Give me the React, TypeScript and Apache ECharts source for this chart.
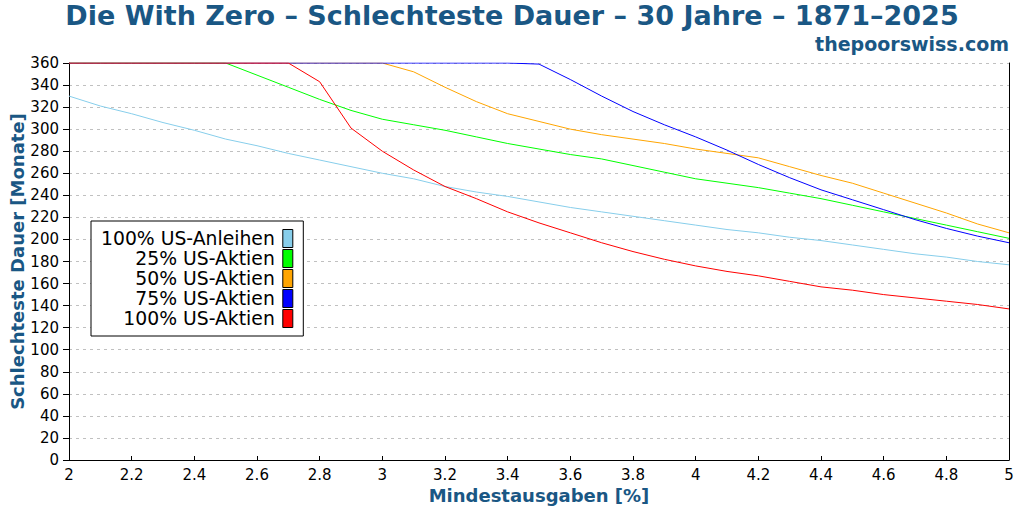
import React, { useEffect, useRef } from "react";
import * as echarts from "echarts";

const xValues = [2.0, 2.1, 2.2, 2.3, 2.4, 2.5, 2.6, 2.7, 2.8, 2.9, 3.0, 3.1, 3.2, 3.3, 3.4, 3.5, 3.6, 3.7, 3.8, 3.9, 4.0, 4.1, 4.2, 4.3, 4.4, 4.5, 4.6, 4.7, 4.8, 4.9, 5.0];

const bonds100 = [330, 321, 314, 306, 299, 291, 285, 278, 272, 266, 260, 255, 248, 243, 239, 234, 229, 225, 221, 217, 213, 209, 206, 202, 199, 195, 191, 187, 184, 180, 177];
const stocks25 = [360, 360, 360, 360, 360, 360, 349, 338, 327, 317, 309, 304, 299, 293, 287, 282, 277, 273, 267, 261, 255, 251, 247, 242, 237, 231, 225, 219, 213, 207, 201];
const stocks50 = [360, 360, 360, 360, 360, 360, 360, 360, 360, 360, 360, 352, 338, 325, 314, 307, 300, 295, 291, 287, 282, 278, 274, 266, 258, 251, 242, 233, 224, 214, 206];
const stocks75 = [360, 360, 360, 360, 360, 360, 360, 360, 360, 360, 360, 360, 360, 360, 360, 359, 345, 330, 316, 304, 293, 281, 268, 256, 245, 236, 227, 218, 210, 203, 197];
const stocks100 = [360, 360, 360, 360, 360, 360, 360, 360, 343, 301, 280, 263, 248, 237, 225, 215, 206, 197, 189, 182, 176, 171, 167, 162, 157, 154, 150, 147, 144, 141, 137];

const seriesNames = ["100% US-Anleihen", "25% US-Aktien", "50% US-Aktien", "75% US-Aktien", "100% US-Aktien"];
const seriesValues = [bonds100, stocks25, stocks50, stocks75, stocks100];
const seriesColors = ["#87ceeb", "#00ff00", "#ffa500", "#0000ff", "#ff0000"];

const titleText = "Die With Zero – Schlechteste Dauer – 30 Jahre – 1871–2025";
const siteText = "thepoorswiss.com";
const xName = "Mindestausgaben [%]";
const yName = "Schlechteste Dauer [Monate]";

const FONT = "DejaVu Sans";
const BLUE = "#1a5784";

export default function App() {
  const ref = useRef<HTMLDivElement>(null);
  useEffect(() => {
    if (!ref.current) return;
    const chart = echarts.init(ref.current, undefined, { renderer: "svg" });
    chart.setOption({
      animation: false,
      backgroundColor: "#ffffff",
      textStyle: { fontFamily: FONT },
      title: [
        {
          text: titleText,
          left: "center",
          top: 2,
          padding: 0,
          textStyle: { fontFamily: FONT, fontSize: 27, fontWeight: "bold", color: BLUE },
        },
        {
          text: siteText,
          right: 15,
          top: 34,
          padding: 0,
          textStyle: { fontFamily: FONT, fontSize: 19, fontWeight: "bold", color: BLUE },
        },
      ],
      graphic: [
        {
          type: "text",
          x: 17,
          y: 261.5,
          rotation: Math.PI / 2,
          style: {
            text: yName,
            fontFamily: FONT,
            fontSize: 18,
            fontWeight: "bold",
            fill: BLUE,
            align: "center",
            verticalAlign: "middle",
          },
        },
      ],
      grid: { left: 69, right: 15, top: 63, bottom: 52, containLabel: false, outerBoundsMode: "none" },
      legend: {
        orient: "vertical",
        left: 91,
        top: 221,
        align: "right",
        icon: "rect",
        itemWidth: 10,
        itemHeight: 18,
        itemGap: 1,
        padding: [8, 10, 8, 10],
        backgroundColor: "#ffffff",
        borderColor: "#000000",
        borderWidth: 1,
        borderRadius: 0,
        itemStyle: { borderColor: "#000000", borderWidth: 1 },
        textStyle: { fontFamily: FONT, fontSize: 18.8, lineHeight: 18, color: "#000000", padding: [0, 3, 0, 0] },
        data: seriesNames,
      },
      xAxis: {
        type: "value",
        min: 2,
        max: 5,
        interval: 0.2,
        name: xName,
        nameLocation: "middle",
        nameGap: 26,
        nameTextStyle: { fontFamily: FONT, fontSize: 18, fontWeight: "bold", color: BLUE },
        axisLine: { show: true, lineStyle: { color: "#000000", width: 1 } },
        axisTick: { show: true, inside: true, length: 4, lineStyle: { color: "#000000" } },
        axisLabel: { fontFamily: FONT, fontSize: 15, color: "#000000", margin: 7 },
        splitLine: { show: false },
      },
      yAxis: [
        {
          type: "value",
          min: 0,
          max: 360,
          interval: 20,
          axisLine: { show: true, lineStyle: { color: "#000000", width: 1 } },
          axisTick: { show: true, inside: false, length: 6, lineStyle: { color: "#000000" } },
          axisLabel: { fontFamily: FONT, fontSize: 15, color: "#000000", margin: 10 },
          splitLine: { show: true, lineStyle: { color: "#c0c0c0", type: [3, 4], width: 1 } },
        },
        {
          type: "value",
          position: "right",
          min: 0,
          max: 360,
          interval: 20,
          axisLine: { show: true, lineStyle: { color: "#000000", width: 1 } },
          axisTick: { show: false },
          axisLabel: { show: false },
          splitLine: { show: false },
        },
      ],
      series: seriesNames.map((name, i) => ({
        name,
        type: "line",
        yAxisIndex: 0,
        data: xValues.map((x, j) => [x, seriesValues[i][j]]),
        showSymbol: false,
        symbol: "none",
        color: seriesColors[i],
        lineStyle: { color: seriesColors[i], width: 1 },
        itemStyle: { color: seriesColors[i] },
      })),
    });
    return () => chart.dispose();
  }, []);
  return <div ref={ref} style={{ width: 1024, height: 512, position: "absolute", left: 0, top: 0 }} />;
}
